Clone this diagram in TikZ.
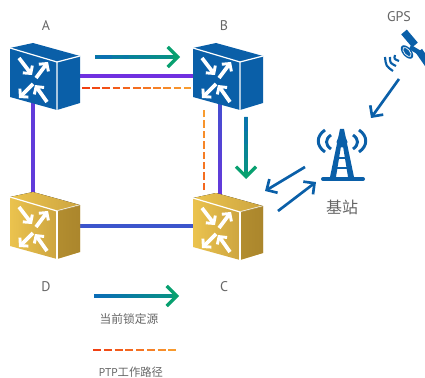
\documentclass[tikz,border=0pt]{standalone}
\usepackage{fontspec}
\setmainfont{PT Sans}
\newfontfamily\cjk{Noto Sans CJK SC}
\usepackage{xcolor}
\usetikzlibrary{arrows.meta,calc}

\definecolor{swblue}{HTML}{0A5FA8}
\definecolor{swgoldl}{HTML}{EBC34E}
\definecolor{swgoldm}{HTML}{CDA540}
\definecolor{swgoldd}{HTML}{A07C26}
\definecolor{lockblue}{HTML}{0A6CB8}
\definecolor{lockgreen}{HTML}{08A070}
\definecolor{linkblue}{HTML}{3C55CC}
\definecolor{linkviolet}{HTML}{7030E0}
\definecolor{ptpred}{HTML}{F03A10}
\definecolor{ptporange}{HTML}{F8A030}
\definecolor{labelgray}{HTML}{666666}

% colour run along a connector: style, from, to, first colour, second colour, slices, filled share of a slice
\newcommand{\colorrun}[7]{
    \foreach \i in {1,...,#6} {
        \pgfmathsetmacro{\mixval}{100*(\i-0.5)/#6}
        \pgfmathsetmacro{\runa}{(\i-1)/#6}
        \pgfmathsetmacro{\runb}{(\i-1+#7)/#6}
        \draw[#1, #5!\mixval!#4] ($(#2)!\runa!(#3)$) -- ($(#2)!\runb!(#3)$);
    }
}

\begin{document}
\begin{tikzpicture}[
            x=0.75pt, y=-0.75pt,
            lbl/.style={text=labelgray, font=\fontsize{10.5}{12}\selectfont, inner sep=0pt},
            lock/.style={line width=2.6pt, -{Straight Barb[length=7.5pt,width=15pt,line width=2.4pt]}},
            blue arrow/.style={swblue, line width=2pt, -{Straight Barb[length=6pt,width=12pt,line width=2pt]}},
            link/.style={line width=3pt},
            ptp/.style={line width=2.1pt},
            swarrow/.style={white, line width=2.8pt, -{Straight Barb[length=4pt,width=9pt,line width=2.2pt]}},
            switch/.pic={
                \fill[pic actions] (0,0) -- (23,-5) -- (70,8) -- (47,14) -- cycle;
                \path[pic actions] (0,0) -- (47,14) -- (47,62) -- (0,49) -- cycle;
                \path[pic actions] (47,14) -- (70,8) -- (70,55) -- (47,62) -- cycle;
                \draw[white, line width=0.9pt] (0,0) -- (47,14) -- (70,8) (47,14) -- (47,62);
                \draw[swarrow] (9,10) -- (22,27);
                \draw[swarrow] (26,30) -- (38,14);
                \draw[swarrow] (23,36) -- (9,50);
                \draw[swarrow] (37,54) -- (25,37);
            },
            ]

            \useasboundingbox (0,0) rectangle (425,378);

            % Link corners and arrow ends
            \coordinate (a) at (33,76);
            \coordinate (b) at (220,76);
            \coordinate (c) at (220,226);
            \coordinate (d) at (33,226);
            \coordinate (ptpab) at (82,88);
            \coordinate (ptpba) at (194,88);
            \coordinate (ptpbc) at (204,107);
            \coordinate (ptpcb) at (204,190);
            \coordinate (lockas) at (95,57);
            \coordinate (lockam) at (172,57);
            \coordinate (lockae) at (180,57);
            \coordinate (lockbs) at (246,117);
            \coordinate (lockbm) at (246,171);
            \coordinate (lockbe) at (246,179);
            \coordinate (gpsout) at (399,79);
            \coordinate (towerin) at (371,118);
            \coordinate (towerout) at (305,167);
            \coordinate (swcin) at (265,191);
            \coordinate (swcout) at (278,211);
            \coordinate (towerback) at (316,182);
            \coordinate (legls) at (94,296);
            \coordinate (leglm) at (171,296);
            \coordinate (legle) at (179,296);
            \coordinate (legps) at (93,350);
            \coordinate (legpe) at (179,350);

            % Links
            \draw[link, linkviolet] (a) -- (b);
            \draw[link, linkviolet!70!linkblue] (a) -- (d);
            \draw[link, linkblue] (d) -- (c);
            \draw[link, linkviolet] (b) -- (c);
            \colorrun{link}{b}{c}{linkblue}{linkviolet}{12}{1.1}
            \colorrun{ptp}{ptpab}{ptpba}{ptpred}{ptporange}{11}{0.75}
            \colorrun{ptp}{ptpcb}{ptpbc}{ptpred!60!ptporange}{ptporange}{8}{0.7}

            % Switches
            \pic[fill=swblue] at (10,48) {switch};
            \pic[fill=swblue] at (193,48) {switch};
            \pic[left color=swgoldl, right color=swgoldm] at (10,197) {switch};
            \pic[left color=swgoldl, right color=swgoldm] at (193,198) {switch};
            \fill[swgoldd, opacity=0.75] (240,212) -- (263,206) -- (263,253) -- (240,260) -- cycle;
            \fill[swgoldd, opacity=0.75] (57,211) -- (80,205) -- (80,252) -- (57,259) -- cycle;
            \draw[white, line width=0.9pt] (240,212) -- (240,260) (57,211) -- (57,259);

            % Lock source arrows
            \draw[lock, lockgreen] (lockas) -- (lockae);
            \colorrun{line width=2.6pt}{lockas}{lockam}{lockblue}{lockgreen!70!lockblue}{14}{1.1}
            \draw[lock, lockgreen] (lockbs) -- (lockbe);
            \colorrun{line width=2.6pt}{lockbs}{lockbm}{lockblue}{lockgreen!70!lockblue}{12}{1.1}
            \draw[lock, lockgreen] (legls) -- (legle);
            \colorrun{line width=2.6pt}{legls}{leglm}{lockblue}{lockgreen!70!lockblue}{14}{1.1}
            \colorrun{ptp}{legps}{legpe}{ptpred}{ptporange}{8}{0.75}

            % Satellite links
            \draw[blue arrow] (gpsout) -- (towerin);
            \draw[blue arrow] (towerout) -- (swcin);
            \draw[blue arrow] (swcout) -- (towerback);

            % Tower
            \fill[swblue] (342,142) circle (5.5);
            \fill[swblue] (340,129) -- (344,129) -- (354,177) -- (348,177) -- (342,140) -- (336,177) -- (330,177) -- cycle;
            \draw[swblue, line width=2pt] (337,158) -- (347,158) (335,168) -- (349,168);
            \draw[swblue, line width=3pt, line cap=round] (323,179) -- (363,179);
            \draw[swblue, line width=2.2pt] (325,130) .. controls (316,136) and (316,146) .. (325,152);
            \draw[swblue, line width=2.2pt] (331,135) .. controls (325,139) and (325,145) .. (331,149);
            \draw[swblue, line width=2.2pt] (359,130) .. controls (368,136) and (368,146) .. (359,152);
            \draw[swblue, line width=2.2pt] (353,135) .. controls (359,139) and (359,145) .. (353,149);

            % GPS satellite
            \draw[swblue, line width=5.5pt] (404,32) -- (415,45);
            \draw[swblue, line width=5.5pt] (419,51) -- (428,64);
            \draw[swblue, line width=3.5pt] (410,47) -- (420,53);
            \fill[swblue, rotate around={40:(407,52)}] (407,52) ellipse (4.5 and 8);
            \draw[white, line width=0.5pt, rotate around={40:(407,52)}] (407,52) ellipse (2.8 and 5.5);
            \draw[swblue, line width=1.6pt] (385,57) .. controls (386,66) .. (393,71);
            \draw[swblue, line width=1.6pt] (390,57) .. controls (390,63) .. (396,66);
            \draw[swblue, line width=1.6pt] (395,55) .. controls (394,59) .. (399,61);

            % Labels
            \node[lbl] (laba) at (46,26) {A};
            \node[lbl] (labb) at (224,26) {B};
            \node[lbl] (labc) at (224,287) {C};
            \node[lbl] (labd) at (46,287) {D};
            \node[lbl] (labgps) at (399,17) {GPS};
            \node[lbl, font=\cjk\fontsize{12}{13}\selectfont] (labtower) at (342,207) {基站};
            \node[lbl, font=\cjk\fontsize{8.8}{10}\selectfont] (lablock) at (129,319) {当前锁定源};
            \node[lbl, font=\fontsize{8.5}{10}\selectfont] (labptp) at (131,372) {PTP{\cjk 工作路径}};
        \end{tikzpicture}
\end{document}
